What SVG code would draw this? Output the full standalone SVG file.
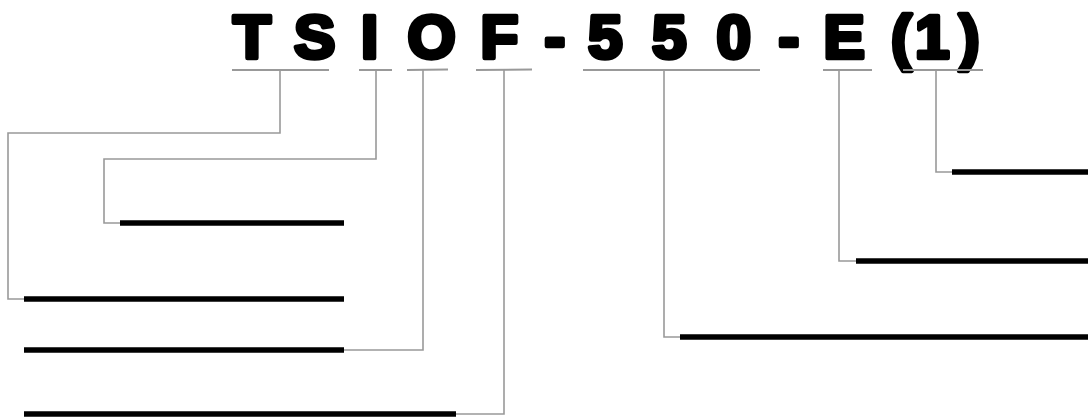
<svg xmlns="http://www.w3.org/2000/svg" width="1088" height="418" viewBox="0 0 1088 418">
<style>
.code{font-family:"Liberation Sans",Arial,sans-serif;font-weight:bold;font-size:62px;fill:#000;stroke:#000;stroke-width:4.5px;stroke-linejoin:round}
.ul{stroke:#999;stroke-width:2;fill:none}
.con{stroke:#999;stroke-width:1.6;fill:none}
.bar{stroke:#000;stroke-width:5.5;fill:none}
</style>
<rect width="1088" height="418" fill="#fff"/>
<g id="code">
<text class="code" y="58" x="233 272 294 340 361 385 407.5 462 480.5 526 544.5 568 588 636 652 699 716.5 760 778.5 803 823.5 870 891 915 959">T S I O F - 5 5 0 - E (1)</text>
</g>
<g id="seg-T"><line class="ul" x1="232" y1="70" x2="329" y2="70"/></g>
<g id="seg-I"><line class="ul" x1="359" y1="70" x2="392" y2="70"/></g>
<g id="seg-O"><line class="ul" x1="407" y1="70" x2="448" y2="69.5"/></g>
<g id="seg-F"><line class="ul" x1="476" y1="70" x2="532" y2="69.5"/></g>
<g id="seg-550"><line class="ul" x1="583" y1="70" x2="760" y2="70"/></g>
<g id="seg-E"><line class="ul" x1="823" y1="70" x2="872" y2="70"/></g>
<g id="seg-1"><line class="ul" x1="903" y1="70" x2="983" y2="70"/></g>
<g id="connectors">
<polyline class="con" points="280,70 280,133 8,133 8,299 24,299"/>
<polyline class="con" points="376,70 376,159 104,159 104,223 120,223"/>
<polyline class="con" points="423,70 423,350 344,350"/>
<polyline class="con" points="504,70 504,414 456,414"/>
<polyline class="con" points="664,70 664,337 680,337"/>
<polyline class="con" points="839,70 839,261 856,261"/>
<polyline class="con" points="936,70 936,172 952,172"/>
</g>
<g id="field-T"><line class="bar" x1="24" y1="299" x2="344" y2="299"/></g>
<g id="field-I"><line class="bar" x1="120" y1="223" x2="344" y2="223"/></g>
<g id="field-O"><line class="bar" x1="24" y1="350" x2="344" y2="350"/></g>
<g id="field-F"><line class="bar" x1="24" y1="414" x2="456" y2="414"/></g>
<g id="field-550"><line class="bar" x1="680" y1="337" x2="1088" y2="337"/></g>
<g id="field-E"><line class="bar" x1="856" y1="261" x2="1088" y2="261"/></g>
<g id="field-1"><line class="bar" x1="952" y1="172" x2="1088" y2="172"/></g>
</svg>
